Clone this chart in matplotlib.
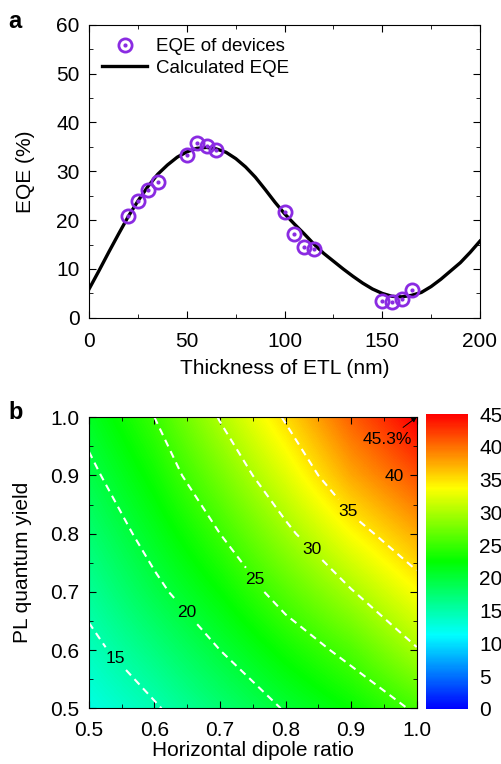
import numpy as np
import matplotlib
matplotlib.use("Agg")
import matplotlib.pyplot as plt
from matplotlib.colors import LinearSegmentedColormap
from matplotlib.ticker import MultipleLocator

plt.rcParams['font.family'] = ['Liberation Sans', 'DejaVu Sans']

# panel a: measured EQE of devices
thick_dev = [20, 25, 30, 35, 50, 55, 60, 65, 100, 105, 110, 115, 150, 155, 160, 165]
eqe_dev = [20.8, 23.9, 26.1, 27.8, 33.3, 35.8, 35.1, 34.3, 21.6, 17.2, 14.6, 14.15,
           3.35, 3.15, 3.9, 5.6]

# panel a: calculated EQE curve (read every 5 nm)
thick_calc = list(range(0, 205, 5))
eqe_calc = [6.0, 9.7, 13.5, 17.2, 20.8, 24.0, 26.9, 29.4, 31.3, 32.9, 34.0, 34.7, 34.9,
            34.6, 33.9, 32.6, 30.9, 28.8, 26.3, 23.7, 21.3, 19.2, 17.2, 15.1, 13.2, 11.6,
            10.0, 8.5, 7.1, 5.9, 5.0, 4.4, 4.3, 4.6, 5.2, 6.4, 7.9, 9.6, 11.3, 13.4, 15.7]

# panel b: EQE map, rows = PL quantum yield, cols = horizontal dipole ratio
dipole = [0.5, 0.6, 0.7, 0.8, 0.9, 1.0]
plqy = [0.5, 0.6, 0.7, 0.8, 0.9, 1.0]
eqe_map = [
    [12.5, 14.7, 17.5, 20.2, 22.6, 25.4],
    [14.2, 17.0, 20.0, 23.1, 25.9, 29.8],
    [15.9, 19.3, 22.5, 26.2, 29.8, 33.6],
    [17.6, 21.2, 25.0, 29.3, 33.7, 37.4],
    [19.3, 23.1, 27.6, 32.4, 37.6, 41.4],
    [21.0, 25.0, 30.2, 35.3, 40.8, 45.3],
]
levels = [15, 20, 25, 30, 35]
label_pos = [(0.535, 0.579), (0.646, 0.66), (0.747, 0.715), (0.837, 0.77), (0.895, 0.838)]

purple = '#8a2be2'
fs = 15

fig = plt.figure(figsize=(5.02, 7.64), dpi=100)

# ---- panel a ----
ax1 = fig.add_axes([0.178, 0.584, 0.778, 0.3835])
ax1.plot(thick_calc, eqe_calc, color='k', lw=2.4, zorder=2)
h1, = ax1.plot(thick_dev, eqe_dev, ls='none', marker='o', ms=9.5, mfc='none',
               mec=purple, mew=2, zorder=3)
h2, = ax1.plot(thick_dev, eqe_dev, ls='none', marker='o', ms=2, mfc=purple,
               mec=purple, zorder=3)
hl = plt.Line2D([], [], color='k', lw=2.4)
ax1.legend([(h1, h2), hl], ['EQE of devices', 'Calculated EQE'], loc='upper left',
           frameon=False, fontsize=13.5, handlelength=2.4, borderaxespad=0.3,
           labelspacing=0.25, handletextpad=0.45)
ax1.set_xlim(0, 200)
ax1.set_ylim(0, 60)
ax1.xaxis.set_major_locator(MultipleLocator(50))
ax1.xaxis.set_minor_locator(MultipleLocator(25))
ax1.yaxis.set_major_locator(MultipleLocator(10))
ax1.yaxis.set_minor_locator(MultipleLocator(5))
ax1.tick_params(which='both', direction='in', top=True, right=True, labelsize=fs)
ax1.tick_params(which='major', length=5)
ax1.tick_params(which='minor', length=3)
ax1.tick_params(axis='x', pad=10)
ax1.tick_params(axis='y', pad=7)
ax1.set_xlabel('Thickness of ETL (nm)', fontsize=fs, labelpad=6)
ax1.set_ylabel('EQE (%)', fontsize=fs, labelpad=15)
fig.text(0.016, 0.972, 'a', fontsize=17, fontweight='bold', va='center')

# ---- panel b ----
cmap = LinearSegmentedColormap.from_list(
    'rainbow5', ['#0000ff', '#00ffff', '#00ff00', '#ffff00', '#ff0000'])
ax2 = fig.add_axes([0.177, 0.0729, 0.653, 0.381])
im = ax2.imshow(eqe_map, origin='lower', cmap=cmap, vmin=0, vmax=45,
                interpolation='bilinear', extent=[0.45, 1.05, 0.45, 1.05], aspect='auto')
cs = ax2.contour(dipole, plqy, eqe_map, levels=levels, colors='white',
                 linestyles='--', linewidths=1.5)
cs.set_dashes([(0, (3.5, 2.5))]) if hasattr(cs, 'set_dashes') else None
labels = ax2.clabel(cs, fmt='%d', colors='k', fontsize=12.5, inline=True,
                    inline_spacing=3, manual=label_pos)
for t in labels:
    t.set_rotation(0)
ax2.text(0.966, 0.899, '40', fontsize=12.5, ha='center', va='center')
ax2.annotate('45.3%', xy=(1.0, 1.0), xytext=(0.955, 0.962), fontsize=12.5,
             ha='center', va='center',
             arrowprops=dict(arrowstyle='-|>', color='k', lw=0.7,
                             mutation_scale=7, shrinkA=2, shrinkB=0))
ax2.set_xlim(0.5, 1.0)
ax2.set_ylim(0.5, 1.0)
ax2.xaxis.set_major_locator(MultipleLocator(0.1))
ax2.xaxis.set_minor_locator(MultipleLocator(0.05))
ax2.yaxis.set_major_locator(MultipleLocator(0.1))
ax2.yaxis.set_minor_locator(MultipleLocator(0.05))
ax2.tick_params(which='both', direction='in', top=True, right=True, labelsize=fs)
ax2.tick_params(which='major', length=5)
ax2.tick_params(which='minor', length=3)
ax2.tick_params(axis='x', pad=9)
ax2.tick_params(axis='y', pad=7)
ax2.set_xlabel('Horizontal dipole ratio', fontsize=fs, labelpad=1)
ax2.set_ylabel('PL quantum yield', fontsize=fs, labelpad=13)
fig.text(0.016, 0.46, 'b', fontsize=17, fontweight='bold', va='center')

cax = fig.add_axes([0.8486, 0.072, 0.0837, 0.386])
cb = fig.colorbar(im, cax=cax, ticks=range(0, 50, 5))
cb.outline.set_visible(False)
cax.tick_params(length=0, labelsize=fs, pad=8)

fig.savefig('out.png', dpi=100)
